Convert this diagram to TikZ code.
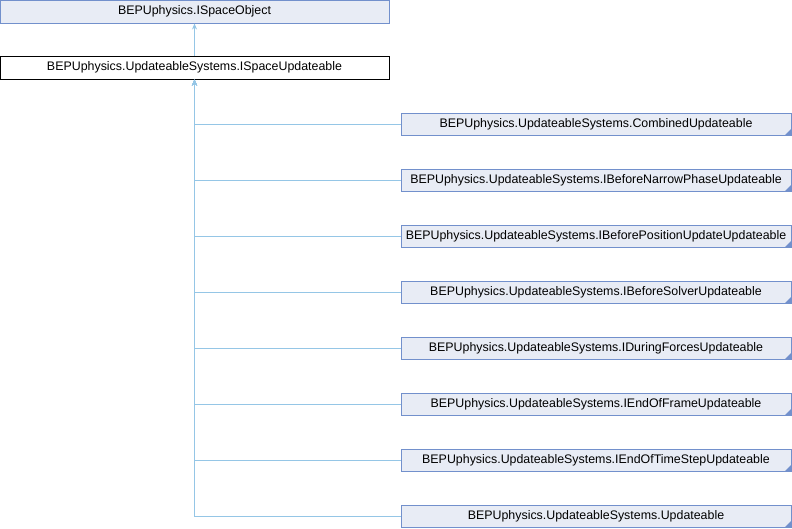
\documentclass[tikz,border=0pt]{standalone}
\usepackage{fontspec}
\setmainfont{Liberation Sans}
\usetikzlibrary{arrows.meta}
\definecolor{boxfill}{HTML}{E8ECF5}
\definecolor{boxline}{HTML}{7290CC}
\definecolor{edgeline}{HTML}{95C6E6}
\tikzset{classbox/.style={draw=boxline,fill=boxfill,line width=1pt,minimum width=390pt,minimum height=22pt,inner sep=0pt,font=\fontsize{12.4}{14}\selectfont}}

\begin{document}
\begin{tikzpicture}[x=1pt,y=-1pt]
\tikzset{subbox/.style={classbox,path picture={\fill[boxline] (path picture bounding box.south east) --++ (-6pt,0pt) --++ (6pt,6pt) -- cycle;}}}
\tikzset{edge/.style={draw=edgeline,line width=1pt,-{Stealth[length=6pt,width=5pt]}}}
\useasboundingbox (0,0) rectangle (792,528);
\node[classbox,minimum width=389pt,minimum height=23pt] (obj) at (194.5,11.5) {BEPUphysics.ISpaceObject};
\node[classbox,draw=black,fill=white,minimum width=389pt,minimum height=23pt] (upd) at (194.5,67.5) {BEPUphysics.UpdateableSystems.ISpaceUpdateable};
\draw[edge] (upd) -- (obj);
\foreach \n [count=\i from 0] in {CombinedUpdateable,IBeforeNarrowPhaseUpdateable,IBeforePositionUpdateUpdateable,IBeforeSolverUpdateable,IDuringForcesUpdateable,IEndOfFrameUpdateable,IEndOfTimeStepUpdateable,Updateable}
{
  \node[subbox] (sub\i) at (596,124+56*\i) {BEPUphysics.UpdateableSystems.\n};
  \draw[edge] (sub\i.west) -| (upd.south);
}
\end{tikzpicture}
\end{document}
